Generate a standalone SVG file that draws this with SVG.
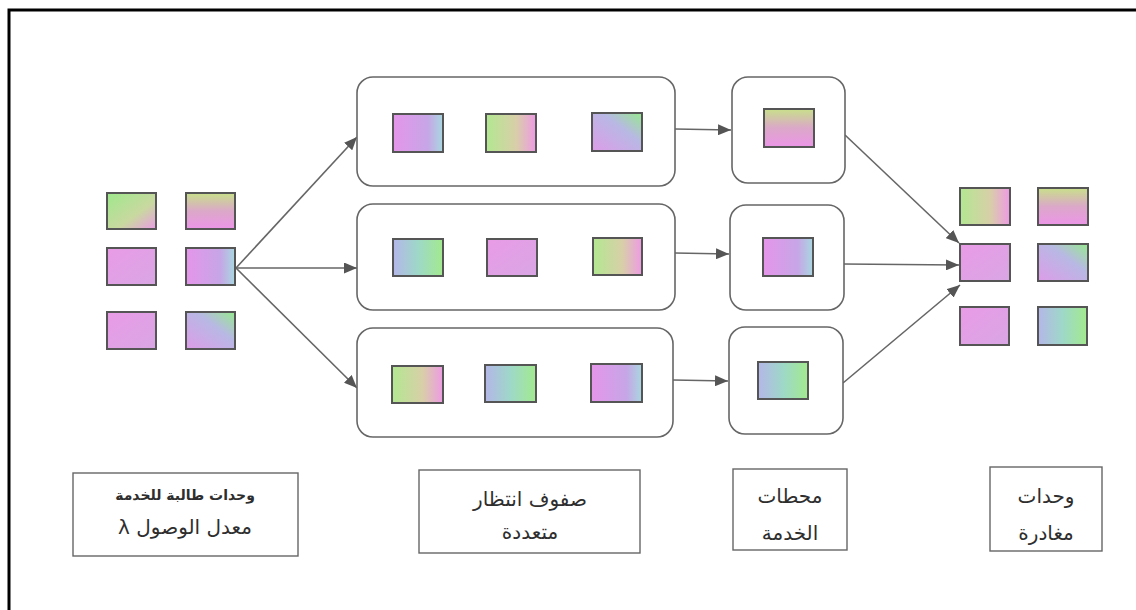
<svg xmlns="http://www.w3.org/2000/svg" width="1136" height="610" viewBox="0 0 1136 610">
<defs>
<style>
.frame{fill:none;stroke:#000;stroke-width:3}
.box{fill:#fff;stroke:#666;stroke-width:1.6}
.lbl{fill:#fff;stroke:#666;stroke-width:1.4}
.u{stroke:#555;stroke-width:2}
.c{fill:none;stroke:#666;stroke-width:1.6}
.t{font-family:"DejaVu Sans",sans-serif;fill:#2e2e2e;text-anchor:middle;direction:rtl;unicode-bidi:embed}
</style>
<linearGradient id="gp" x1="0" y1="0" x2="1" y2="1"><stop offset="0" stop-color="#9ee98c"/><stop offset="0.6" stop-color="#c9d8a0"/><stop offset="1" stop-color="#eb9ce4"/></linearGradient>
<linearGradient id="yp" x1="0" y1="0" x2="0" y2="1"><stop offset="0" stop-color="#c8e08a"/><stop offset="0.5" stop-color="#dba8c8"/><stop offset="1" stop-color="#ec95e8"/></linearGradient>
<linearGradient id="pk" x1="0" y1="0" x2="1" y2="1"><stop offset="0" stop-color="#e99be6"/><stop offset="1" stop-color="#d9a6e4"/></linearGradient>
<linearGradient id="pb" x1="0" y1="0" x2="1" y2="0"><stop offset="0" stop-color="#e595ea"/><stop offset="0.7" stop-color="#c6a6e6"/><stop offset="1" stop-color="#a8d8e0"/></linearGradient>
<linearGradient id="vg" x1="0" y1="1" x2="1" y2="0"><stop offset="0" stop-color="#dd9ce8"/><stop offset="0.6" stop-color="#b8b8e4"/><stop offset="1" stop-color="#96ea8e"/></linearGradient>
<linearGradient id="bg" x1="0" y1="0" x2="1" y2="0"><stop offset="0" stop-color="#b4b6e8"/><stop offset="0.5" stop-color="#9ed8c8"/><stop offset="1" stop-color="#a2ea8e"/></linearGradient>
<linearGradient id="gy" x1="0" y1="0" x2="1" y2="0"><stop offset="0" stop-color="#b2e890"/><stop offset="0.6" stop-color="#d8cfa8"/><stop offset="1" stop-color="#ee9ae4"/></linearGradient>
<marker id="ah" viewBox="0 0 13 11" refX="13" refY="5.5" markerWidth="13" markerHeight="11" markerUnits="userSpaceOnUse" orient="auto"><path d="M0,0 L13,5.5 L0,11 Z" fill="#555"/></marker>
</defs>
<rect width="1136" height="610" fill="#fff"/>
<path class="frame" d="M9,610 V10 H1136"/>

<g id="connectors">
<line class="c" x1="236" y1="268" x2="357" y2="137" marker-end="url(#ah)"/>
<line class="c" x1="236" y1="268" x2="357" y2="268" marker-end="url(#ah)"/>
<line class="c" x1="236" y1="268" x2="357" y2="388" marker-end="url(#ah)"/>
<line class="c" x1="675" y1="129" x2="731" y2="130" marker-end="url(#ah)"/>
<line class="c" x1="675" y1="253" x2="729" y2="254" marker-end="url(#ah)"/>
<line class="c" x1="673" y1="380" x2="728" y2="381" marker-end="url(#ah)"/>
<line class="c" x1="845" y1="135" x2="959" y2="243" marker-end="url(#ah)"/>
<line class="c" x1="843" y1="264" x2="959" y2="265" marker-end="url(#ah)"/>
<line class="c" x1="843" y1="383" x2="960" y2="285" marker-end="url(#ah)"/>
</g>

<g id="arriving-units">
<rect class="u" x="107" y="193" width="49" height="36" fill="url(#gp)"/>
<rect class="u" x="186" y="193" width="49" height="36" fill="url(#yp)"/>
<rect class="u" x="107" y="248" width="49" height="37" fill="url(#pk)"/>
<rect class="u" x="186" y="248" width="49" height="37" fill="url(#pb)"/>
<rect class="u" x="107" y="312" width="49" height="37" fill="url(#pk)"/>
<rect class="u" x="186" y="312" width="49" height="37" fill="url(#vg)"/>
</g>

<g id="queue-1">
<rect class="box" x="357" y="77" width="318" height="109" rx="16"/>
<rect class="u" x="393" y="114" width="50" height="38" fill="url(#pb)"/>
<rect class="u" x="486" y="114" width="50" height="38" fill="url(#gy)"/>
<rect class="u" x="592" y="113" width="50" height="38" fill="url(#vg)"/>
</g>
<g id="queue-2">
<rect class="box" x="357" y="204" width="318" height="106" rx="16"/>
<rect class="u" x="393" y="239" width="50" height="37" fill="url(#bg)"/>
<rect class="u" x="487" y="239" width="50" height="37" fill="url(#pk)"/>
<rect class="u" x="593" y="238" width="49" height="37" fill="url(#gy)"/>
</g>
<g id="queue-3">
<rect class="box" x="357" y="328" width="316" height="109" rx="16"/>
<rect class="u" x="392" y="366" width="51" height="37" fill="url(#gy)"/>
<rect class="u" x="485" y="365" width="51" height="37" fill="url(#bg)"/>
<rect class="u" x="591" y="364" width="51" height="38" fill="url(#pb)"/>
</g>

<g id="station-1">
<rect class="box" x="732" y="77" width="113" height="106" rx="16"/>
<rect class="u" x="764" y="109" width="50" height="38" fill="url(#yp)"/>
</g>
<g id="station-2">
<rect class="box" x="730" y="205" width="114" height="105" rx="16"/>
<rect class="u" x="763" y="238" width="50" height="38" fill="url(#pb)"/>
</g>
<g id="station-3">
<rect class="box" x="729" y="327" width="114" height="107" rx="16"/>
<rect class="u" x="758" y="362" width="50" height="37" fill="url(#bg)"/>
</g>

<g id="departing-units">
<rect class="u" x="960" y="188" width="50" height="37" fill="url(#gy)"/>
<rect class="u" x="1038" y="188" width="50" height="37" fill="url(#yp)"/>
<rect class="u" x="960" y="244" width="50" height="37" fill="url(#pk)"/>
<rect class="u" x="1038" y="244" width="50" height="37" fill="url(#vg)"/>
<rect class="u" x="960" y="307" width="49" height="38" fill="url(#pk)"/>
<rect class="u" x="1038" y="307" width="49" height="38" fill="url(#bg)"/>
</g>

<g id="label-arrivals">
<rect class="lbl" x="73" y="473" width="225" height="83"/>
<text class="t" x="185" y="500" font-size="14" font-weight="bold">وحدات طالبة للخدمة</text>
<text class="t" x="185" y="534" font-size="20">معدل الوصول λ</text>
</g>
<g id="label-queues">
<rect class="lbl" x="419" y="470" width="221" height="83"/>
<text class="t" x="530" y="506" font-size="20">صفوف انتظار</text>
<text class="t" x="530" y="539" font-size="20">متعددة</text>
</g>
<g id="label-stations">
<rect class="lbl" x="733" y="469" width="114" height="81"/>
<text class="t" x="790" y="503" font-size="20">محطات</text>
<text class="t" x="790" y="540" font-size="20">الخدمة</text>
</g>
<g id="label-departures">
<rect class="lbl" x="990" y="467" width="112" height="84"/>
<text class="t" x="1046" y="503" font-size="20">وحدات</text>
<text class="t" x="1046" y="540" font-size="20">مغادرة</text>
</g>
</svg>
